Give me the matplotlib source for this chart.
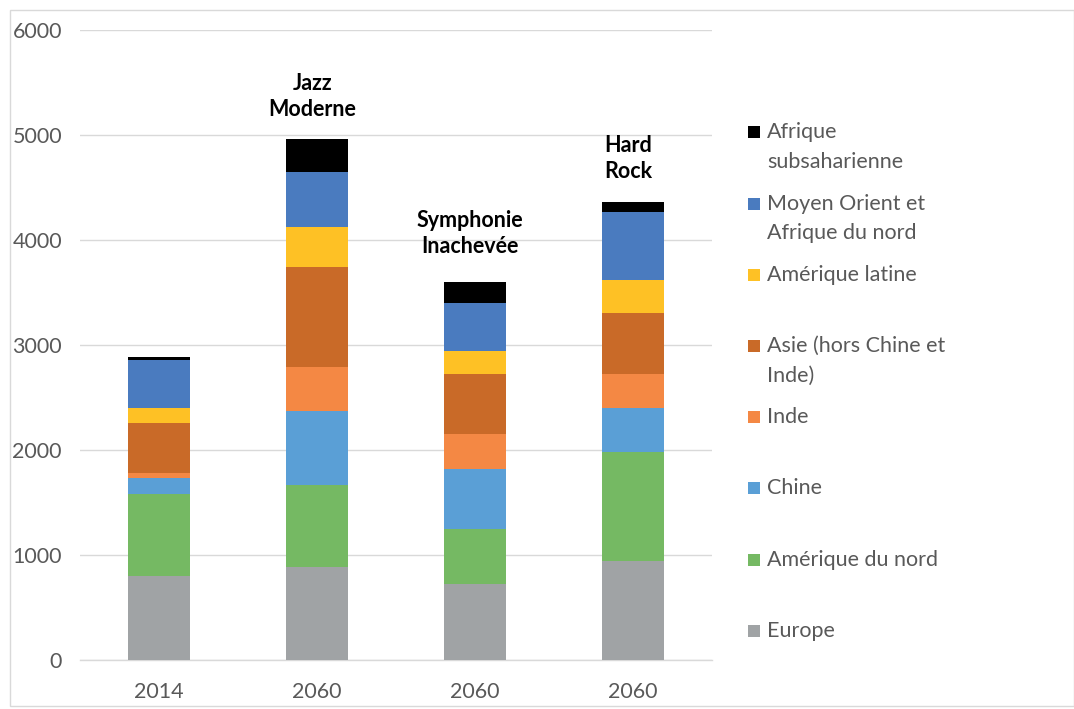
import matplotlib
matplotlib.use("Agg")
import matplotlib.pyplot as plt
from matplotlib.patches import Rectangle
import numpy as np

plt.rcParams['font.family'] = ['Lato', 'DejaVu Sans']

categories = ["2014", "2060", "2060", "2060"]
scenario_labels = ["", "Jazz\nModerne", "Symphonie\nInachevée", "Hard\nRock"]
scenario_label_y = [None, 5367, 4062, 4776]

series_names = ["Europe", "Amérique du nord", "Chine", "Inde",
                "Asie (hors Chine et\nInde)", "Amérique latine",
                "Moyen Orient et\nAfrique du nord", "Afrique\nsubsaharienne"]
europe = [803, 885, 727, 943]
amerique_nord = [778, 785, 524, 1035]
chine = [155, 700, 568, 425]
inde = [42, 420, 333, 321]
asie = [482, 950, 572, 578]
amerique_latine = [140, 380, 219, 320]
moyen_orient = [457, 530, 460, 641]
afrique_ss = [26, 313, 194, 102]
series_values = [europe, amerique_nord, chine, inde, asie,
                 amerique_latine, moyen_orient, afrique_ss]
colors = ["#a0a3a5", "#75b963", "#5a9fd6", "#f48844", "#c96a28",
          "#fec125", "#4a7bbf", "#000000"]

W, H = 1074, 709
fig = plt.figure(figsize=(W / 100, H / 100), dpi=100)
ax = fig.add_axes([80 / W, (H - 660) / H, 632 / W, 630 / H])

x = np.arange(len(categories))
bottom = np.zeros(len(categories))
for vals, col in zip(series_values, colors):
    ax.bar(x, vals, width=0.39, bottom=bottom, color=col, linewidth=0, zorder=3)
    bottom += np.array(vals)

ax.set_xlim(-0.5, len(categories) - 0.5)
ax.set_ylim(0, 6000)
ax.set_yticks(np.arange(0, 6001, 1000))
ax.set_xticks(x)
ax.set_xticklabels(categories)
ax.yaxis.grid(True, color="#d9d9d9", linewidth=1.0, zorder=0)
ax.set_axisbelow(True)
for s in ["top", "right", "left"]:
    ax.spines[s].set_visible(False)
ax.spines["bottom"].set_color("#d9d9d9")
ax.spines["bottom"].set_linewidth(1.0)
ax.tick_params(axis="both", length=0, labelsize=15.5, labelcolor="#595959")
ax.tick_params(axis="y", pad=13)
ax.tick_params(axis="x", pad=16)

for i, (lab, ly) in enumerate(zip(scenario_labels, scenario_label_y)):
    if lab:
        ax.text(i - 0.03, ly, lab, ha="center", va="center", fontsize=15.5,
                fontweight="bold", color="#000000", linespacing=1.3)

# legend (top entry first)
for k, (name, col) in enumerate(zip(series_names[::-1], colors[::-1])):
    base = 138.3 + 71.2 * k
    fig.patches.append(Rectangle((748 / W, (H - base) / H), 12 / W, 12 / H,
                                 transform=fig.transFigure, color=col,
                                 linewidth=0))
    lines = name.split("\n")
    for j, ln in enumerate(lines):
        fig.text(767 / W, (H - (base + 29.7 * j)) / H, ln, fontsize=15.5,
                 color="#595959", ha="left", va="baseline")

# outer frame
fig.patches.append(Rectangle((9.5 / W, 3 / H), (W - 10) / W, (H - 12.5) / H,
                             transform=fig.transFigure, fill=False,
                             edgecolor="#d9d9d9", linewidth=1.0))

fig.savefig("out.png", dpi=100)
